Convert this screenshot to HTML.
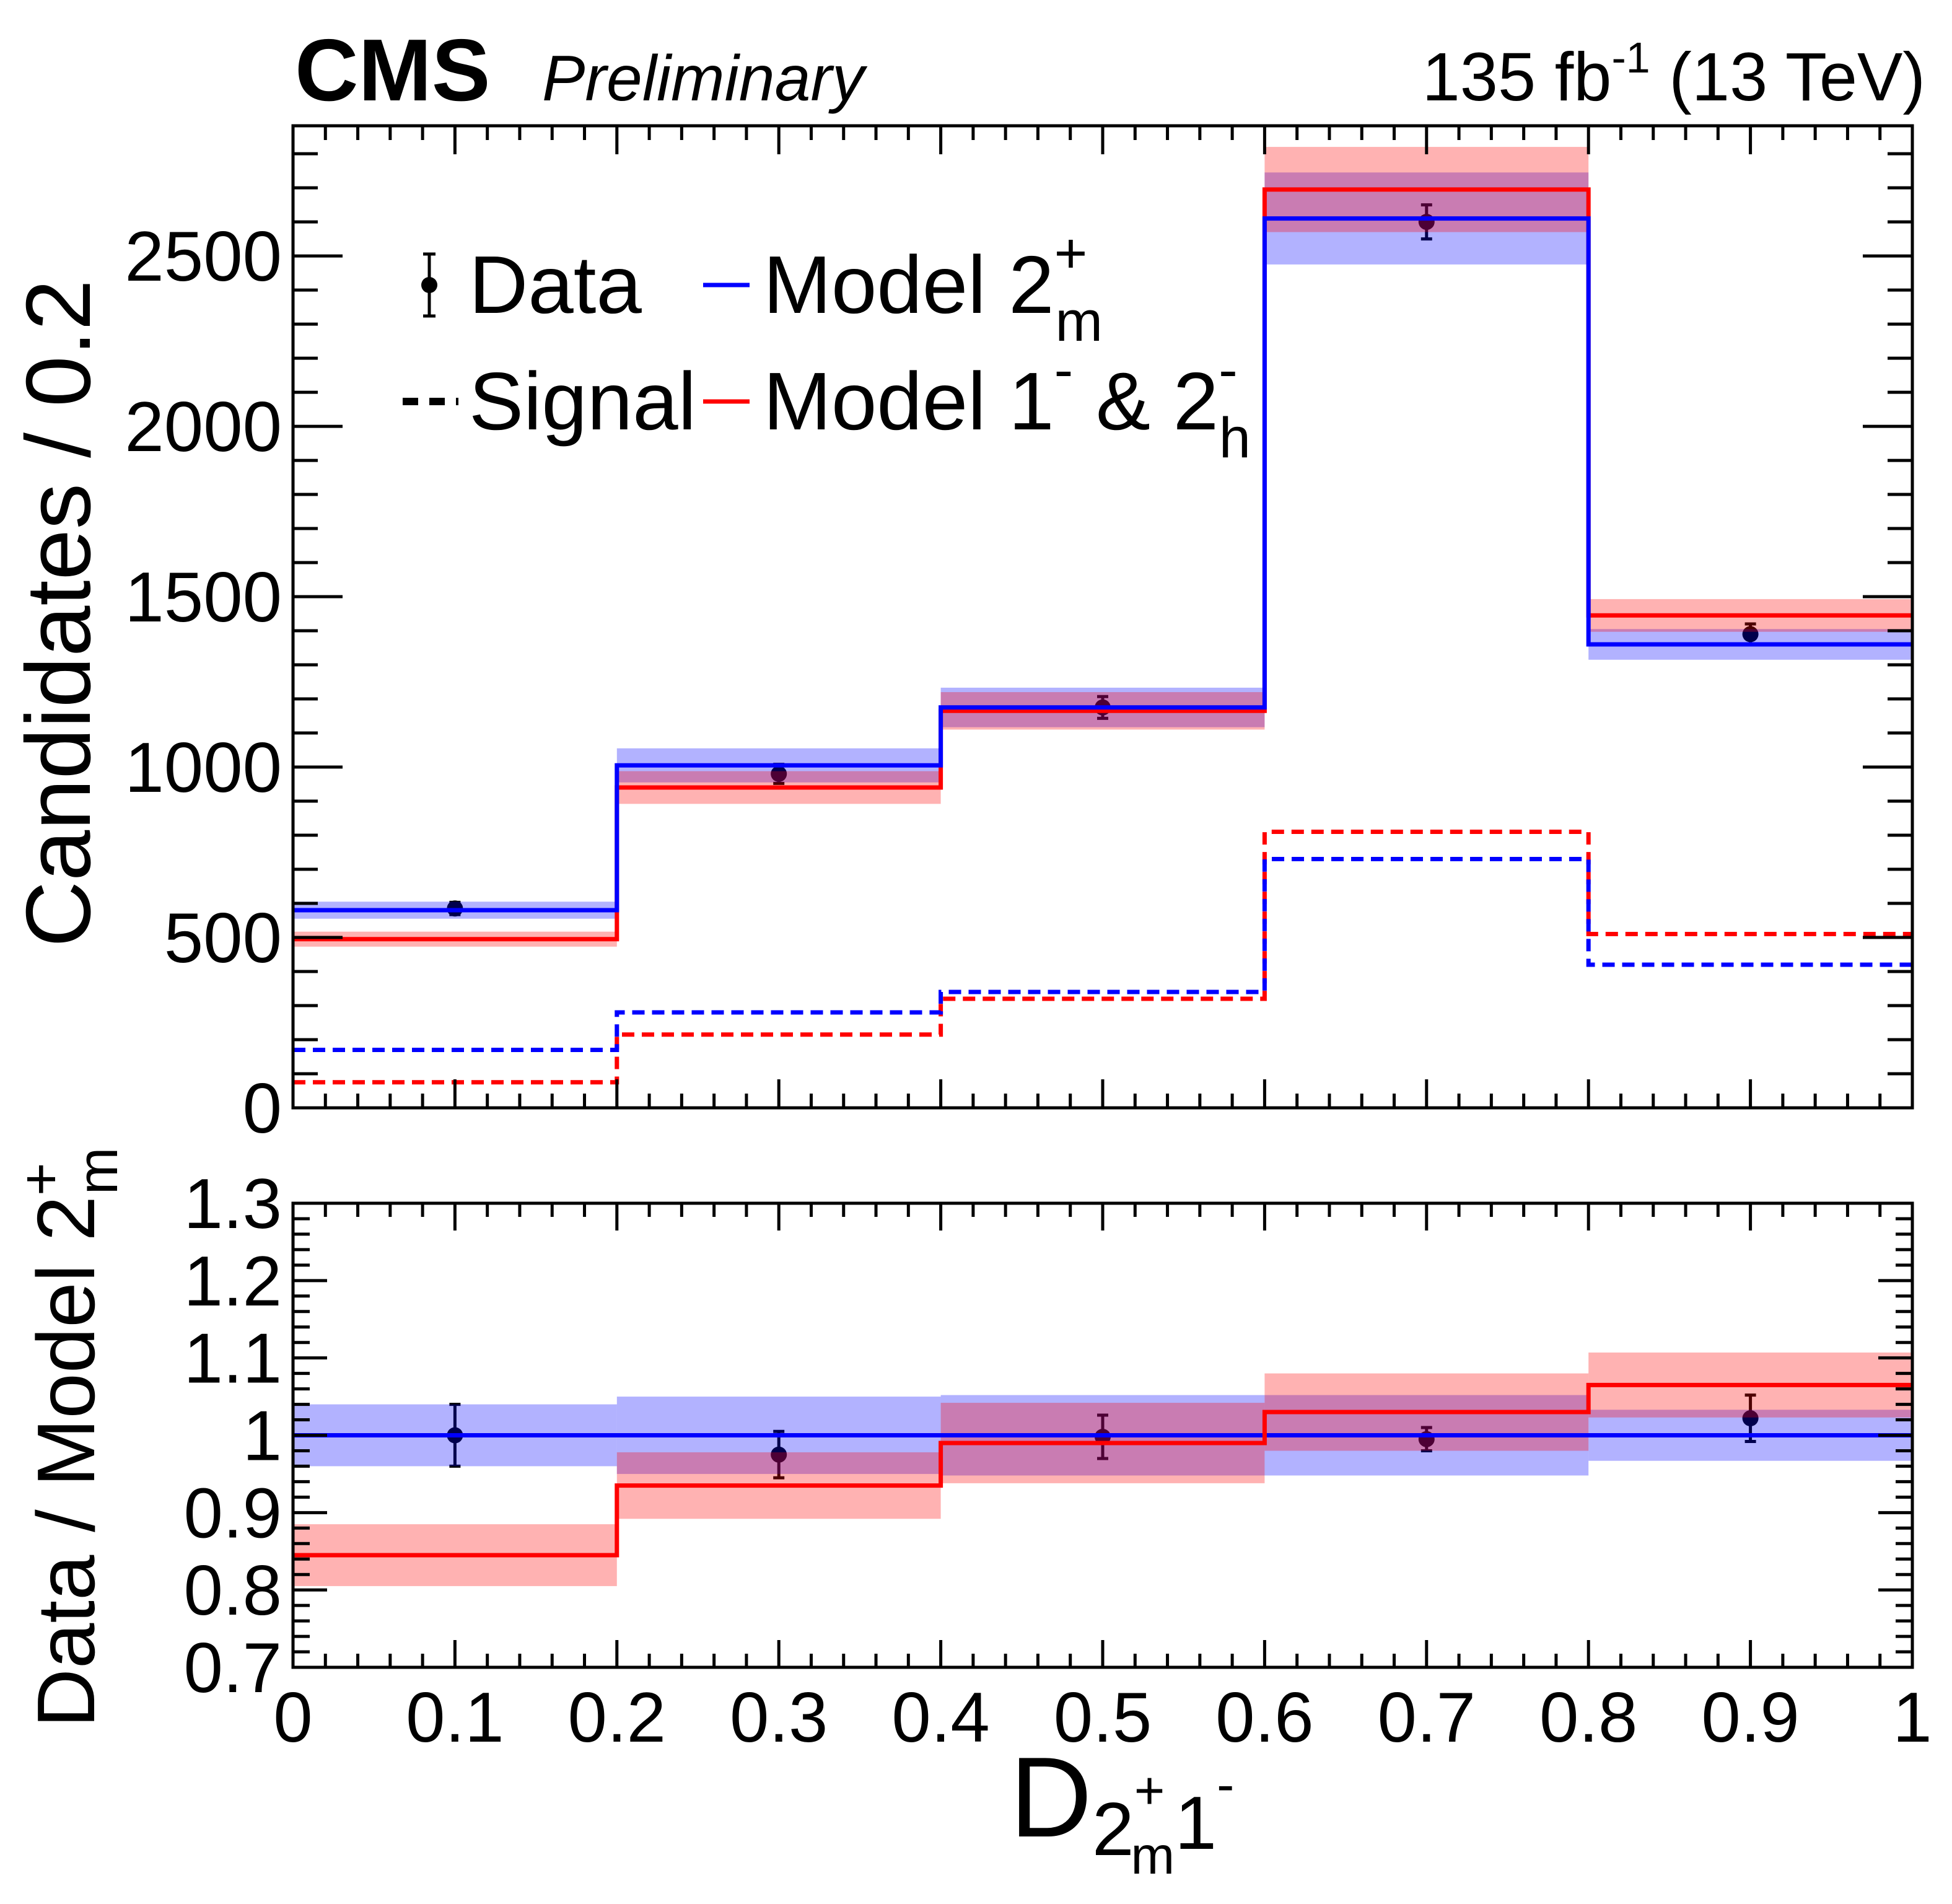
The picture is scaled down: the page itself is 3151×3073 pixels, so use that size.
<!DOCTYPE html>
<html><head><meta charset="utf-8"><style>
html,body{margin:0;padding:0;background:#fff;}
svg{display:block;font-family:"Liberation Sans",sans-serif;}
</style></head><body>
<svg id="chart" xmlns="http://www.w3.org/2000/svg" width="3151" height="3073" viewBox="0 0 3151 3073">
<text x="476" y="162" font-size="142" font-weight="bold">CMS</text>
<text x="875" y="162" font-size="104" font-style="italic">Preliminary</text>
<text x="3108" y="162" font-size="110" text-anchor="end">135 fb<tspan dy="-45" font-size="70">-1</tspan><tspan dy="45"> (13 TeV)</tspan></text>
<g id="topPanel"></g>
<g id="botPanel"></g>
<text transform="translate(145,990) rotate(-90)" font-size="148" text-anchor="middle">Candidates / 0.2</text>
<text transform="translate(152,2320) rotate(-90)" font-size="132" text-anchor="middle">Data / Model 2<tspan dy="-55" font-size="92">+</tspan><tspan dx="-52" dy="92" font-size="92">m</tspan></text>
<text x="1630" y="2964" font-size="184">D<tspan font-size="122" dy="30">2</tspan><tspan font-size="85" dy="-75">+</tspan><tspan font-size="85" dx="-55" dy="105">m</tspan><tspan font-size="122" dy="-40">1</tspan><tspan font-size="85" dy="-75">-</tspan></text>
<g>
<line x1="693" y1="410" x2="693" y2="510" stroke="#000" stroke-width="5"/>
<line x1="683" y1="410" x2="703" y2="410" stroke="#000" stroke-width="5"/>
<line x1="683" y1="510" x2="703" y2="510" stroke="#000" stroke-width="5"/>
<circle cx="693" cy="460" r="13" fill="#000"/>
<text x="757" y="505" font-size="132">Data</text>
<line x1="1135" y1="460" x2="1210" y2="460" stroke="#00f" stroke-width="7"/>
<text x="1232" y="505" font-size="132">Model 2<tspan dy="-65" font-size="92">+</tspan><tspan dx="-52" dy="110" font-size="92">m</tspan></text>
<line x1="650" y1="648" x2="740" y2="648" stroke="#000" stroke-width="12" stroke-dasharray="25,18"/>
<text x="757" y="693" font-size="132">Signal</text>
<line x1="1135" y1="648" x2="1210" y2="648" stroke="#f00" stroke-width="7"/>
<text x="1232" y="693" font-size="132">Model 1<tspan dy="-65" font-size="92">-</tspan><tspan dy="65"> &amp; 2</tspan><tspan dy="-65" font-size="92">-</tspan><tspan dx="-30" dy="110" font-size="92">h</tspan></text>
</g>
</svg>
<script>
const edges = [0, 0.2, 0.4, 0.6, 0.8, 1.0];
const blueModel = [580, 1005, 1175, 2610, 1360];
const blueErr = [25, 50, 58, 135, 45];
const redModel = [495, 940, 1165, 2695, 1445];
const redErr = [22, 48, 55, 125, 48];
const dataVals = [585, 980, 1175, 2600, 1390];
const dataErr = [18, 28, 32, 50, 30];
const blueSignal = [170, 280, 340, 730, 420];
const redSignal = [75, 215, 320, 810, 510];
const ratioBlue = [1, 1, 1, 1, 1];
const ratioBlueErr = [0.04, 0.05, 0.052, 0.052, 0.033];
const ratioRed = [0.845, 0.935, 0.99, 1.03, 1.065];
const ratioRedErr = [0.04, 0.043, 0.052, 0.05, 0.042];
const ratioData = [1.0, 0.975, 0.998, 0.995, 1.022];
const ratioDataErr = [0.04, 0.03, 0.028, 0.015, 0.03];
const topTicks = [0, 500, 1000, 1500, 2000, 2500];
const botTicks = [0.7, 0.8, 0.9, 1, 1.1, 1.2, 1.3];
const xTicks = [0, 0.1, 0.2, 0.3, 0.4, 0.5, 0.6, 0.7, 0.8, 0.9, 1];
const xTickLabels = ["0", "0.1", "0.2", "0.3", "0.4", "0.5", "0.6", "0.7", "0.8", "0.9", "1"];

const NS = "http://www.w3.org/2000/svg";
const L = 473, R = 3087;
const T1 = 203, B1 = 1788, Y1MAX = 2882;
const T2 = 1942, B2 = 2691, Y2MIN = 0.7, Y2MAX = 1.3;
const xs = v => L + (R - L) * v;
const y1 = v => B1 - (B1 - T1) * v / Y1MAX;
const y2 = v => B2 - (B2 - T2) * (v - Y2MIN) / (Y2MAX - Y2MIN);
function mk(parent, tag, attrs) {
  const e = document.createElementNS(NS, tag);
  for (const k in attrs) e.setAttribute(k, attrs[k]);
  parent.appendChild(e);
  return e;
}
function step(vals, ys) {
  let d = "";
  vals.forEach((v, i) => {
    d += (i === 0 ? "M" : "L") + xs(edges[i]) + "," + ys(v) + " L" + xs(edges[i + 1]) + "," + ys(v) + " ";
  });
  return d;
}
function panel(g, ys, T, B, model) {
  model.data.vals.forEach((v, i) => {
    const cx = xs((edges[i] + edges[i + 1]) / 2);
    const e = model.data.err[i];
    const grp = mk(g, "g", {});
    
    
    mk(grp, "line", {x1: cx, x2: cx, y1: ys(v + e), y2: ys(v - e), stroke: "#000", "stroke-width": 5});
    mk(grp, "line", {x1: cx - 9, x2: cx + 9, y1: ys(v + e), y2: ys(v + e), stroke: "#000", "stroke-width": 5});
    mk(grp, "line", {x1: cx - 9, x2: cx + 9, y1: ys(v - e), y2: ys(v - e), stroke: "#000", "stroke-width": 5});
    mk(grp, "circle", {cx: cx, cy: ys(v), r: 13, fill: "#000"});
  });
  model.bands.forEach(b => {
    b.vals.forEach((v, i) => {
      const r = mk(g, "rect", {x: xs(edges[i]), y: ys(v + b.err[i]), width: xs(edges[i + 1]) - xs(edges[i]), height: ys(v - b.err[i]) - ys(v + b.err[i]), fill: b.color, "fill-opacity": 0.3});
      
      
    });
  });
  model.lines.forEach(l => {
    const p = mk(g, "path", {d: step(l.vals, ys), fill: "none", stroke: l.color, "stroke-width": 7, "stroke-dasharray": l.dash || "none"});
    
    
  });
  const f = mk(g, "rect", {x: L, y: T, width: R - L, height: B - T, fill: "none", stroke: "#000", "stroke-width": 5});
  
  
}
const topG = document.getElementById("topPanel");
panel(topG, y1, T1, B1, {
  bands: [{name: "model2m", vals: blueModel, err: blueErr, color: "#0000ff"}, {name: "model1", vals: redModel, err: redErr, color: "#ff0000"}],
  lines: [
    {name: "model1-line", vals: redModel, color: "#ff0000"},
    {name: "model2m-line", vals: blueModel, color: "#0000ff"},
    {name: "signal-model1-line", vals: redSignal, color: "#ff0000", dash: "20,12"},
    {name: "signal-model2m-line", vals: blueSignal, color: "#0000ff", dash: "20,12"}
  ],
  data: {vals: dataVals, err: dataErr}
});
const botG = document.getElementById("botPanel");
panel(botG, y2, T2, B2, {
  bands: [{name: "ratio-model2m", vals: ratioBlue, err: ratioBlueErr, color: "#0000ff"}, {name: "ratio-model1", vals: ratioRed, err: ratioRedErr, color: "#ff0000"}],
  lines: [
    {name: "ratio-model2m-line", vals: ratioBlue, color: "#0000ff"},
    {name: "ratio-model1-line", vals: ratioRed, color: "#ff0000"}
  ],
  data: {vals: ratioData, err: ratioDataErr}
});
function tk(g, xa, ya, xb, yb) { mk(g, "line", {x1: xa, y1: ya, x2: xb, y2: yb, stroke: "#000", "stroke-width": 5}); }
for (let i = 0; i <= 50; i++) {
  const x = xs(i / 50);
  const maj = i % 5 === 0;
  tk(topG, x, B1, x, B1 - (maj ? 46 : 23));
  tk(topG, x, T1, x, T1 + (maj ? 46 : 23));
  tk(botG, x, B2, x, B2 - (maj ? 44 : 22));
  tk(botG, x, T2, x, T2 + (maj ? 44 : 22));
}
for (let v = 0; v <= 2800; v += 100) {
  const maj = v % 500 === 0;
  const y = y1(v);
  tk(topG, L, y, L + (maj ? 80 : 40), y);
  tk(topG, R, y, R - (maj ? 80 : 40), y);
}
for (let k = 0; k <= 30; k++) {
  const v = 0.7 + k * 0.02;
  const maj = k % 5 === 0;
  const y = y2(v);
  tk(botG, L, y, L + (maj ? 55 : 27), y);
  tk(botG, R, y, R - (maj ? 55 : 27), y);
}
topTicks.forEach(v => {
  const t = mk(topG, "text", {x: L - 18, y: y1(v) + 40, "font-size": 114, "text-anchor": "end"});
  t.textContent = v;
  
  
});
botTicks.forEach(v => {
  const t = mk(botG, "text", {x: L - 18, y: y2(v) + 40, "font-size": 114, "text-anchor": "end"});
  t.textContent = String(v);
  
  
});
xTicks.forEach((v, i) => {
  const t = mk(botG, "text", {x: xs(v), y: B2 + 120, "font-size": 114, "text-anchor": "middle"});
  t.textContent = xTickLabels[i];
  
  
});
</script>
</body></html>
